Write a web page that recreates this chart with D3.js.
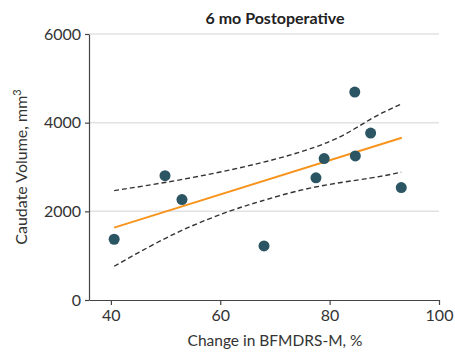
<!DOCTYPE html>
<html>
<head>
<meta charset="utf-8">
<script src="https://cdn.jsdelivr.net/npm/d3@7"></script>
<style>
  body { margin: 0; background: #fff; }
  svg { display: block; font-family: Lato, "Open Sans", sans-serif; }
</style>
</head>
<body>
<div id="app"></div>
<script>
// ---------- Data ----------

const changePct = [40.6, 49.9, 53.0, 68.0, 77.5, 79.0, 84.7, 84.6, 87.5, 93.1];
const caudateVol = [1370, 2805, 2265, 1220, 2755, 3190, 3250, 4690, 3765, 2535];

// fitted line, end points
const fitX = [40.6, 93.2];
const fitY = [1633, 3659];

// confidence band, upper and lower
const upperX = [40.6, 52.6, 67.2, 80.0, 87.3, 93.1];
const upperY = [2468, 2710, 3087, 3575, 4065, 4420];
const lowerX = [40.6, 52.5, 62.4, 67.2, 76.4, 87.3, 93.1];
const lowerY = [761, 1543, 2033, 2220, 2523, 2748, 2884];

const xTicks = [40, 60, 80, 100];
const yTicks = [0, 2000, 4000, 6000];

const TITLE = "6 mo Postoperative";
const X_LABEL = "Change in BFMDRS-M, %";

// ---------- Layout ----------

const WIDTH = 455;
const HEIGHT = 352;

const svg = d3.select("#app").append("svg")
    .attr("width", WIDTH)
    .attr("height", HEIGHT);

const x = d3.scaleLinear().domain([36, 100]).range([89, 439]);
const y = d3.scaleLinear().domain([0, 6000]).range([300, 34]);

// gridlines
svg.append("g")
    .selectAll("line")
    .data(yTicks.filter(d => d > 0))
    .enter()
    .append("line")
    .attr("x1", x(36))
    .attr("x2", x(100))
    .attr("y1", d => y(d))
    .attr("y2", d => y(d))
    .attr("stroke", "#e2e2e2")
    .attr("stroke-width", 1.5);

// axes
const xAxis = svg.append("g")
    .attr("transform", `translate(0, ${y(0)})`)
    .call(d3.axisBottom(x).tickValues(xTicks).tickFormat(d3.format("d"))
        .tickSize(5).tickSizeOuter(0).tickPadding(5));

const yAxis = svg.append("g")
    .attr("transform", `translate(${x(36)}, 0)`)
    .call(d3.axisLeft(y).tickValues(yTicks).tickFormat(d3.format("d"))
        .tickSize(4).tickSizeOuter(0).tickPadding(4));

[xAxis, yAxis].forEach(g => {
    g.select(".domain").attr("stroke", "#444").attr("stroke-width", 1.2);
    g.selectAll(".tick line").attr("stroke", "#444").attr("stroke-width", 1.2);
    g.selectAll(".tick text")
        .attr("fill", "#333")
        .style("font-size", "16px")
        .style("font-family", "Lato, sans-serif");
});

// confidence band
const line = d3.line().x(d => x(d[0])).y(d => y(d[1])).curve(d3.curveNatural);

svg.append("path")
    .datum(d3.zip(upperX, upperY))
    .attr("d", line)
    .attr("fill", "none")
    .attr("stroke", "#333")
    .attr("stroke-width", 1.4)
    .attr("stroke-dasharray", "5,3");

svg.append("path")
    .datum(d3.zip(lowerX, lowerY))
    .attr("d", line)
    .attr("fill", "none")
    .attr("stroke", "#333")
    .attr("stroke-width", 1.4)
    .attr("stroke-dasharray", "5,3");

// fitted line
svg.append("path")
    .datum(d3.zip(fitX, fitY))
    .attr("d", d3.line().x(d => x(d[0])).y(d => y(d[1])))
    .attr("fill", "none")
    .attr("stroke", "#f7941d")
    .attr("stroke-width", 2);

// points
svg.append("g")
    .selectAll("circle")
    .data(d3.zip(changePct, caudateVol))
    .enter()
    .append("circle")
    .attr("cx", d => x(d[0]))
    .attr("cy", d => y(d[1]))
    .attr("r", 5.5)
    .attr("fill", "#2b5563");

// title
svg.append("text")
    .attr("x", 275)
    .attr("y", 24)
    .attr("text-anchor", "middle")
    .style("font-size", "16px")
    .style("font-weight", "bold")
    .attr("fill", "#222")
    .text(TITLE);

// x label
svg.append("text")
    .attr("x", 275)
    .attr("y", 346)
    .attr("text-anchor", "middle")
    .style("font-size", "15.5px")
    .attr("fill", "#333")
    .text(X_LABEL);

// y label
const yLabel = svg.append("text")
    .attr("transform", "translate(27, 167) rotate(-90)")
    .attr("text-anchor", "middle")
    .style("font-size", "16px")
    .attr("fill", "#333");
yLabel.append("tspan").text("Caudate Volume, mm");
yLabel.append("tspan")
    .attr("dy", -6)
    .style("font-size", "11px")
    .text("3");
</script>
</body>
</html>
